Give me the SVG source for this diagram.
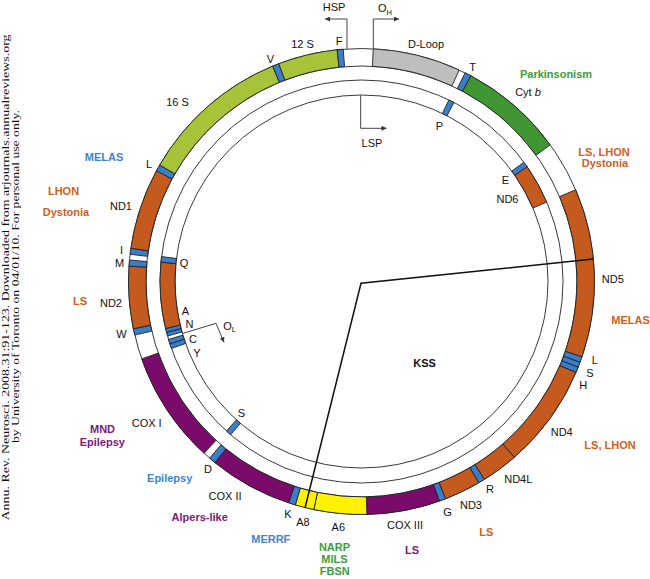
<svg xmlns="http://www.w3.org/2000/svg" width="650" height="579" viewBox="0 0 650 579">
<defs>
<style>
.ring{fill:none;stroke:#222;stroke-width:0.9}
.seg{stroke:#222;stroke-width:0.9}
.or{fill:#C55A1F}.pu{fill:#7A0B6B}.bl{fill:#3A7DCB}.yg{fill:#A6C33A}.gr{fill:#3F9633}.gy{fill:#BEBEBE}.ye{fill:#FFF200}
.lbl{font-family:"Liberation Sans",Arial,sans-serif;font-size:11px;fill:#111;text-anchor:middle}
.dis{font-family:"Liberation Sans",Arial,sans-serif;font-size:11px;font-weight:bold;text-anchor:middle}
.tor{fill:#D0601E}.tpu{fill:#80197A}.tbl{fill:#3B86CF}.tgr{fill:#3E9C3A}
.arr{fill:none;stroke:#444;stroke-width:1}
.cite{font-family:"Liberation Serif","Times New Roman",serif;font-size:10px;fill:#111;text-anchor:middle}
</style>
<marker id="ah" viewBox="0 0 10 10" refX="10" refY="5" markerWidth="7" markerHeight="5" markerUnits="userSpaceOnUse" orient="auto">
<path d="M0,0 L10,5 L0,10 z" fill="#333"/>
</marker>
</defs>
<rect width="650" height="579" fill="#fff"/>

<g id="rings">
<circle class="ring" cx="361.5" cy="281.5" r="233"/>
<circle class="ring" cx="361.5" cy="281.5" r="215.5"/>
<circle class="ring" cx="361.5" cy="281.5" r="201.5"/>
<circle class="ring" cx="361.5" cy="281.5" r="186.5"/>
</g>

<g id="outer-strand">
<path id="dloop" class="seg gy" d="M373.29,48.80 A233,233 0 0 1 459.23,69.99 L451.89,85.87 A215.5,215.5 0 0 0 372.40,66.28 Z"/>
<path id="trnaT" class="seg bl" d="M465.10,72.80 A233,233 0 0 1 470.89,75.77 L462.67,91.23 A215.5,215.5 0 0 0 457.32,88.47 Z"/>
<path id="cytb" class="seg gr" d="M470.89,75.77 A233,233 0 0 1 550.23,144.87 L536.06,155.13 A215.5,215.5 0 0 0 462.67,91.23 Z"/>
<path id="nd5" class="seg or" d="M575.66,189.71 A233,233 0 0 1 581.94,356.97 L565.38,351.30 A215.5,215.5 0 0 0 559.57,196.61 Z"/>
<path id="trnaL2" class="seg bl" d="M581.94,356.97 A233,233 0 0 1 580.03,362.34 L563.62,356.27 A215.5,215.5 0 0 0 565.38,351.30 Z"/>
<path id="trnaS2" class="seg bl" d="M580.03,362.34 A233,233 0 0 1 578.14,367.27 L561.87,360.83 A215.5,215.5 0 0 0 563.62,356.27 Z"/>
<path id="trnaH" class="seg bl" d="M578.14,367.27 A233,233 0 0 1 575.98,372.54 L559.87,365.70 A215.5,215.5 0 0 0 561.87,360.83 Z"/>
<path id="nd4" class="seg or" d="M575.98,372.54 A233,233 0 0 1 514.36,457.35 L502.88,444.14 A215.5,215.5 0 0 0 559.87,365.70 Z"/>
<path id="nd4l" class="seg or" d="M514.36,457.35 A233,233 0 0 1 484.28,479.52 L475.06,464.65 A215.5,215.5 0 0 0 502.88,444.14 Z"/>
<path id="trnaR" class="seg bl" d="M484.28,479.52 A233,233 0 0 1 478.70,482.87 L469.90,467.75 A215.5,215.5 0 0 0 475.06,464.65 Z"/>
<path id="nd3" class="seg or" d="M478.70,482.87 A233,233 0 0 1 445.38,498.88 L439.08,482.55 A215.5,215.5 0 0 0 469.90,467.75 Z"/>
<path id="trnaG" class="seg bl" d="M445.38,498.88 A233,233 0 0 1 439.28,501.14 L433.44,484.64 A215.5,215.5 0 0 0 439.08,482.55 Z"/>
<path id="cox3" class="seg pu" d="M439.28,501.14 A233,233 0 0 1 366.79,514.44 L366.39,496.94 A215.5,215.5 0 0 0 433.44,484.64 Z"/>
<path id="atp6" class="seg ye" d="M366.79,514.44 A233,233 0 0 1 313.85,509.58 L317.43,492.45 A215.5,215.5 0 0 0 366.39,496.94 Z"/>
<path id="atp8" class="seg ye" d="M313.85,509.58 A233,233 0 0 1 295.32,504.90 L300.29,488.13 A215.5,215.5 0 0 0 317.43,492.45 Z"/>
<path id="trnaK" class="seg bl" d="M295.32,504.90 A233,233 0 0 1 288.73,502.84 L294.19,486.22 A215.5,215.5 0 0 0 300.29,488.13 Z"/>
<path id="cox2" class="seg pu" d="M288.73,502.84 A233,233 0 0 1 214.87,462.58 L225.88,448.98 A215.5,215.5 0 0 0 294.19,486.22 Z"/>
<path id="trnaD" class="seg bl" d="M214.87,462.58 A233,233 0 0 1 209.56,458.15 L220.97,444.88 A215.5,215.5 0 0 0 225.88,448.98 Z"/>
<path id="cox1" class="seg pu" d="M204.09,453.29 A233,233 0 0 1 141.73,358.89 L158.24,353.08 A215.5,215.5 0 0 0 215.91,440.38 Z"/>
<path id="trnaW" class="seg bl" d="M134.75,335.10 A233,233 0 0 1 133.34,328.75 L150.48,325.20 A215.5,215.5 0 0 0 151.78,331.08 Z"/>
<path id="nd2" class="seg or" d="M133.34,328.75 A233,233 0 0 1 129.01,266.06 L146.47,267.22 A215.5,215.5 0 0 0 150.48,325.20 Z"/>
<path id="trnaM" class="seg bl" d="M129.01,266.06 A233,233 0 0 1 129.50,259.98 L146.92,261.59 A215.5,215.5 0 0 0 146.47,267.22 Z"/>
<path id="trnaI" class="seg bl" d="M130.09,254.32 A233,233 0 0 1 130.88,248.27 L148.20,250.76 A215.5,215.5 0 0 0 147.47,256.36 Z"/>
<path id="nd1" class="seg or" d="M130.88,248.27 A233,233 0 0 1 156.54,170.68 L171.94,179.00 A215.5,215.5 0 0 0 148.20,250.76 Z"/>
<path id="trnaL1" class="seg bl" d="M156.54,170.68 A233,233 0 0 1 159.72,165.00 L174.87,173.75 A215.5,215.5 0 0 0 171.94,179.00 Z"/>
<path id="rrn16s" class="seg yg" d="M159.72,165.00 A233,233 0 0 1 272.71,66.08 L279.38,82.26 A215.5,215.5 0 0 0 174.87,173.75 Z"/>
<path id="trnaV" class="seg bl" d="M272.71,66.08 A233,233 0 0 1 278.76,63.68 L284.97,80.04 A215.5,215.5 0 0 0 279.38,82.26 Z"/>
<path id="rrn12s" class="seg yg" d="M278.76,63.68 A233,233 0 0 1 337.14,49.78 L338.97,67.18 A215.5,215.5 0 0 0 284.97,80.04 Z"/>
<path id="trnaF" class="seg bl" d="M337.14,49.78 A233,233 0 0 1 343.22,49.22 L344.59,66.66 A215.5,215.5 0 0 0 338.97,67.18 Z"/>
</g>

<g id="inner-strand">
<path id="trnaP" class="seg bl" d="M448.88,99.93 A201.5,201.5 0 0 1 453.92,102.44 L447.04,115.77 A186.5,186.5 0 0 0 442.38,113.45 Z"/>
<path id="trnaE" class="seg bl" d="M523.89,162.21 A201.5,201.5 0 0 1 527.16,166.79 L514.83,175.33 A186.5,186.5 0 0 0 511.81,171.09 Z"/>
<path id="nd6" class="seg or" d="M527.16,166.79 A201.5,201.5 0 0 1 546.71,202.12 L532.92,208.03 A186.5,186.5 0 0 0 514.83,175.33 Z"/>
<path id="trnaS1" class="seg bl" d="M230.64,434.72 A201.5,201.5 0 0 1 226.41,431.01 L236.46,419.88 A186.5,186.5 0 0 0 240.38,423.32 Z"/>
<path id="trnaY" class="seg bl" d="M171.44,348.43 A201.5,201.5 0 0 1 169.86,343.77 L184.13,339.13 A186.5,186.5 0 0 0 185.58,343.45 Z"/>
<path id="trnaC" class="seg bl" d="M169.86,343.77 A201.5,201.5 0 0 1 168.50,339.40 L182.87,335.09 A186.5,186.5 0 0 0 184.13,339.13 Z"/>
<path id="trnaN" class="seg bl" d="M167.52,336.03 A201.5,201.5 0 0 1 166.50,332.29 L181.02,328.51 A186.5,186.5 0 0 0 181.96,331.97 Z"/>
<path id="trnaA" class="seg bl" d="M166.50,332.29 A201.5,201.5 0 0 1 165.57,328.54 L180.15,325.04 A186.5,186.5 0 0 0 181.02,328.51 Z"/>
<path id="innerOr" class="seg or" d="M165.57,328.54 A201.5,201.5 0 0 1 160.93,262.19 L175.86,263.62 A186.5,186.5 0 0 0 180.15,325.04 Z"/>
<path id="trnaQ" class="seg bl" d="M160.93,262.19 A201.5,201.5 0 0 1 161.55,256.59 L176.43,258.45 A186.5,186.5 0 0 0 175.86,263.62 Z"/>
</g>

<g id="connectors">
<polyline id="kss-line" points="593.3,259 361,283.3 305,508" fill="none" stroke="#111" stroke-width="1.5"/>
<path id="hsp-arrow" class="arr" d="M347,49 V19 H325" marker-end="url(#ah)"/>
<path id="oh-arrow" class="arr" d="M373.3,49 V19 H399" marker-end="url(#ah)"/>
<path id="lsp-arrow" class="arr" d="M360.7,95 V128.3 H386.5" marker-end="url(#ah)"/>
<path id="ol-arrow" class="arr" d="M182.4,333.5 L216,323.3 L224,342.3" marker-end="url(#ah)"/>
</g>

<g id="labels">
<text class="lbl" x="334" y="11">HSP</text>
<text class="lbl" x="378" y="12" style="text-anchor:start">O<tspan font-size="7.5" dy="2.5">H</tspan></text>
<text class="lbl" x="302.5" y="48">12 S</text>
<text class="lbl" x="339" y="45">F</text>
<text class="lbl" x="270.3" y="63">V</text>
<text class="lbl" x="426" y="47.5">D-Loop</text>
<text class="lbl" x="472.5" y="70.5">T</text>
<text class="lbl" x="439.5" y="130">P</text>
<text class="lbl" x="372" y="146.5">LSP</text>
<text class="lbl" x="528" y="96">Cyt <tspan font-style="italic">b</tspan></text>
<text class="lbl" x="505.5" y="184">E</text>
<text class="lbl" x="507.5" y="203">ND6</text>
<text class="lbl" x="177.5" y="106">16 S</text>
<text class="lbl" x="149" y="168">L</text>
<text class="lbl" x="121" y="210">ND1</text>
<text class="lbl" x="121.5" y="254">I</text>
<text class="lbl" x="119.5" y="267">M</text>
<text class="lbl" x="184" y="267">Q</text>
<text class="lbl" x="111" y="306.5">ND2</text>
<text class="lbl" x="121.5" y="338">W</text>
<text class="lbl" x="185.5" y="315">A</text>
<text class="lbl" x="189.5" y="328">N</text>
<text class="lbl" x="193" y="343">C</text>
<text class="lbl" x="197" y="357">Y</text>
<text class="lbl" x="223.3" y="329.5" style="text-anchor:start">O<tspan font-size="7.5" dy="2.5">L</tspan></text>
<text class="lbl" x="146.7" y="426.5">COX I</text>
<text class="lbl" x="241.3" y="416.5">S</text>
<text class="lbl" x="208" y="473">D</text>
<text class="lbl" x="225" y="500">COX II</text>
<text class="lbl" x="288" y="518">K</text>
<text class="lbl" x="303" y="525.5">A8</text>
<text class="lbl" x="338.3" y="530.5">A6</text>
<text class="lbl" x="405" y="529">COX III</text>
<text class="lbl" x="447.5" y="515.5">G</text>
<text class="lbl" x="471" y="509">ND3</text>
<text class="lbl" x="490" y="493">R</text>
<text class="lbl" x="518.3" y="483">ND4L</text>
<text class="lbl" x="561.7" y="435.5">ND4</text>
<text class="lbl" x="583.3" y="389">H</text>
<text class="lbl" x="590" y="377">S</text>
<text class="lbl" x="594.7" y="364">L</text>
<text class="lbl" x="612.8" y="282.5">ND5</text>

<text class="dis tgr" x="556" y="78">Parkinsonism</text>
<text class="dis tor" x="604" y="155.5">LS, LHON</text>
<text class="dis tor" x="605" y="167">Dystonia</text>
<text class="dis tor" x="630.5" y="324">MELAS</text>
<text class="dis tor" x="610" y="448.5">LS, LHON</text>
<text class="dis tor" x="486.3" y="535.5">LS</text>
<text class="dis tpu" x="412" y="553.5">LS</text>
<text class="dis tgr" x="334.5" y="550.5">NARP</text>
<text class="dis tgr" x="334.5" y="562.5">MILS</text>
<text class="dis tgr" x="334.7" y="575">FBSN</text>
<text class="dis tbl" x="270.8" y="543">MERRF</text>
<text class="dis tpu" x="199.7" y="521">Alpers-like</text>
<text class="dis tbl" x="169.7" y="482">Epilepsy</text>
<text class="dis tpu" x="102.5" y="433">MND</text>
<text class="dis tpu" x="102.3" y="446">Epilepsy</text>
<text class="dis tor" x="80" y="305">LS</text>
<text class="dis tor" x="63.5" y="195">LHON</text>
<text class="dis tor" x="66" y="216">Dystonia</text>
<text class="dis tbl" x="104" y="160.5">MELAS</text>
<text class="dis" x="424.5" y="367" fill="#111">KSS</text>
</g>

<g id="citation">
<text class="cite" transform="translate(9,277.5) rotate(-90)" textLength="486" lengthAdjust="spacingAndGlyphs">Annu. Rev. Neurosci. 2008.31:91-123. Downloaded from arjournals.annualreviews.org</text>
<text class="cite" transform="translate(19,276.5) rotate(-90)" textLength="333" lengthAdjust="spacingAndGlyphs">by University of Toronto on 04/01/10. For personal use only.</text>
</g>
</svg>
